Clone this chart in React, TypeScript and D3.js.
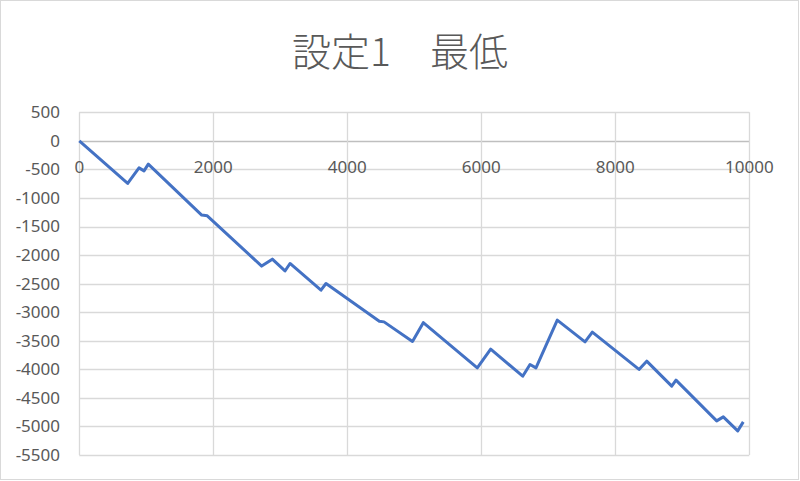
import { scaleLinear, line, range } from 'd3';

// 回転数 / 差枚
const games = [0, 722, 891, 966, 1030, 1827, 1910, 2722, 2881, 3070, 3145, 3607, 3682, 4478, 4548, 4973, 5134, 5940, 6140, 6618, 6727, 6816, 7134, 7548, 7657, 8354, 8469, 8842, 8906, 9513, 9612, 9827, 9910];
const coins = [0, -746, -473, -525, -408, -1300, -1313, -2193, -2071, -2278, -2147, -2614, -2497, -3157, -3169, -3512, -3183, -3974, -3647, -4120, -3915, -3974, -3139, -3519, -3350, -4002, -3857, -4294, -4189, -4902, -4832, -5077, -4920];

const xTicks = range(0, 10001, 2000);
const yTicks = range(-5500, 501, 500);
const title = '設定1　最低';

const W = 800;
const H = 481;
const PLOT = { left: 79.3, right: 749.3, top: 112.3, bottom: 455 };
const FONT = '"Noto Sans", "Noto Sans CJK JP", sans-serif';

export default function App() {
  const x = scaleLinear().domain([0, 10000]).range([PLOT.left, PLOT.right]);
  const y = scaleLinear().domain([-5500, 500]).range([PLOT.bottom, PLOT.top]);
  const path = line<number>()
    .x((_, i) => x(games[i]))
    .y((d) => y(d))(coins);

  return (
    <svg width={W} height={H} style={{ position: 'absolute', left: 0, top: 0 }} fontFamily={FONT}>
      <rect x={0} y={0} width={W} height={H} fill="#fff" />
      <rect x={0.5} y={0.5} width={798} height={479} fill="none" stroke="#D9D9D9" />

      <text x={400} y={49} textAnchor="middle" dominantBaseline="central" fontSize={39} fontWeight={300}
        fill="#595959" fontFamily='"Noto Sans CJK JP", sans-serif'>
        {title}
      </text>

      {/* grid */}
      {yTicks.map((t) => (
        <line key={'h' + t} x1={PLOT.left} x2={PLOT.right} y1={Math.round(y(t)) + 0.5} y2={Math.round(y(t)) + 0.5}
          stroke={t === 0 ? '#BFBFBF' : '#D9D9D9'} strokeWidth={1.3} />
      ))}
      {xTicks.map((t) => (
        <line key={'v' + t} x1={Math.round(x(t)) + 0.5} x2={Math.round(x(t)) + 0.5} y1={PLOT.top} y2={PLOT.bottom}
          stroke="#D9D9D9" strokeWidth={1.3} />
      ))}

      {/* y labels */}
      {yTicks.map((t) => (
        <text key={'yl' + t} x={60} y={y(t)} dy="0.35em" textAnchor="end" fontSize={17} fill="#595959">
          {t}
        </text>
      ))}
      {/* x labels, at the zero line */}
      {xTicks.map((t) => (
        <text key={'xl' + t} x={x(t)} y={y(0) + 26} dy="0.35em" textAnchor="middle" fontSize={17} fill="#595959">
          {t}
        </text>
      ))}

      <path d={path ?? ''} fill="none" stroke="#4472C4" strokeWidth={3} strokeLinejoin="round" />
    </svg>
  );
}
